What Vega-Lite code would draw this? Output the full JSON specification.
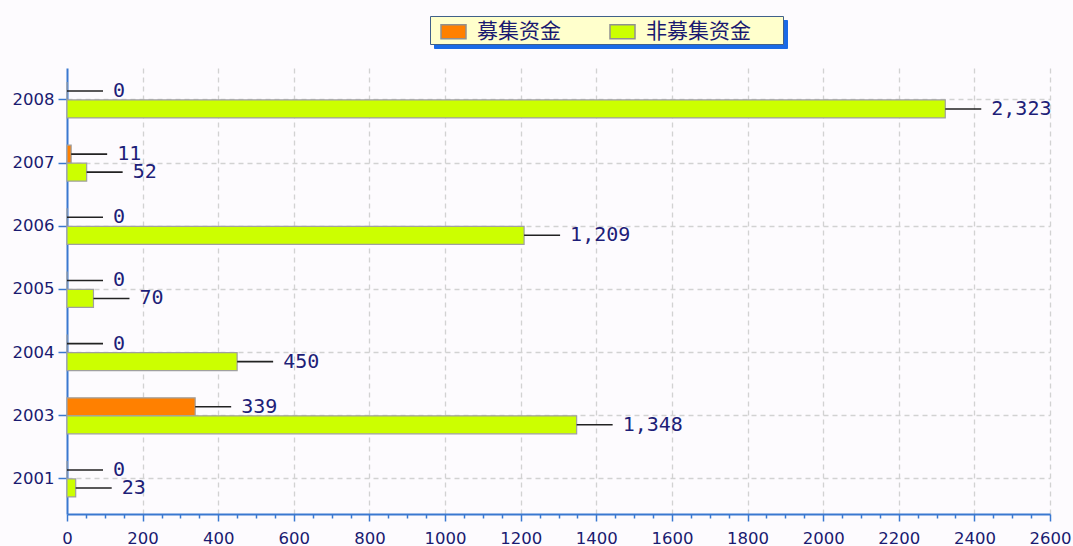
{
  "$schema": "https://vega.github.io/schema/vega-lite/v6.json",
  "width": 983,
  "height": 446,
  "autosize": {"type": "none"},
  "padding": {"left": 67, "top": 68, "right": 23, "bottom": 32},
  "background": "#fdfbfe",
  "config": {
    "view": {"stroke": null},
    "axis": {"labelFont": "DejaVu Sans", "labelFontSize": 16.5, "labelColor": "#1a1a70", "domainColor": "#3a78d0", "domainWidth": 2, "tickColor": "#3a78d0", "tickWidth": 1.5, "gridColor": "#d2d2d2", "gridDash": [5, 4], "gridWidth": 1.3, "title": null},
    "legend": {"labelFont": "Noto Sans CJK SC", "labelFontSize": 21, "labelColor": "#1a1a70"}
  },
  "data": {
    "values": [
      {"year": "2008", "series": "募集资金", "value": 0},
      {"year": "2008", "series": "非募集资金", "value": 2323},
      {"year": "2007", "series": "募集资金", "value": 11},
      {"year": "2007", "series": "非募集资金", "value": 52},
      {"year": "2006", "series": "募集资金", "value": 0},
      {"year": "2006", "series": "非募集资金", "value": 1209},
      {"year": "2005", "series": "募集资金", "value": 0},
      {"year": "2005", "series": "非募集资金", "value": 70},
      {"year": "2004", "series": "募集资金", "value": 0},
      {"year": "2004", "series": "非募集资金", "value": 450},
      {"year": "2003", "series": "募集资金", "value": 339},
      {"year": "2003", "series": "非募集资金", "value": 1348},
      {"year": "2001", "series": "募集资金", "value": 0},
      {"year": "2001", "series": "非募集资金", "value": 23}
    ]
  },
  "encoding": {
    "y": {
      "field": "year", "type": "nominal", "sort": "descending",
      "scale": {"paddingInner": 0.43, "paddingOuter": 0.245, "align": 0.45},
      "axis": {"grid": true, "tickSize": 9, "labelPadding": 4, "domainWidth": 2}
    },
    "yOffset": {"field": "series", "type": "nominal", "sort": ["募集资金", "非募集资金"], "scale": {"paddingInner": 0, "paddingOuter": 0}},
    "x": {
      "field": "value", "type": "quantitative",
      "scale": {"domain": [0, 2600], "nice": false, "zero": true},
      "axis": {
        "values": [0,50,100,150,200,250,300,350,400,450,500,550,600,650,700,750,800,850,900,950,1000,1050,1100,1150,1200,1250,1300,1350,1400,1450,1500,1550,1600,1650,1700,1750,1800,1850,1900,1950,2000,2050,2100,2150,2200,2250,2300,2350,2400,2450,2500,2550,2600],
        "format": "d",
        "labelExpr": "datum.value % 200 === 0 ? datum.label : ''",
        "grid": true,
        "gridOpacity": {"condition": {"test": "datum.value % 200 === 0 && datum.value > 0", "value": 1}, "value": 0},
        "tickSize": {"condition": {"test": "datum.value % 200 === 0", "value": 7}, "value": 4},
        "labelPadding": 9,
        "labelFlush": false,
        "labelOverlap": false
      }
    }
  },
  "layer": [
    {
      "mark": {"type": "bar", "stroke": "#a0a0a0", "strokeWidth": 1.2},
      "encoding": {
        "color": {
          "field": "series", "type": "nominal",
          "scale": {"domain": ["募集资金", "非募集资金"], "range": ["#ff8000", "#ccff00"]},
          "legend": {
            "title": null, "orient": "none", "direction": "horizontal", "columns": 2, "zindex": 2,
            "legendX": 363, "legendY": -52,
            "fillColor": "#ffffcc", "strokeColor": "#40608a",
            "padding": 2, "symbolOffset": 8, "labelOffset": 10, "columnPadding": 40,
            "symbolType": "M-1,-0.56H1V0.56H-1Z", "symbolSize": 625,
            "symbolStrokeColor": "#909090", "symbolStrokeWidth": 1.5, "symbolOpacity": 1,
            "labelExpr": "datum.label === '非募集资金' ? datum.label + '\u2800\u2800' : datum.label"
          }
        }
      }
    },
    {
      "mark": {"type": "rule", "x2Offset": 36, "strokeWidth": 1.6},
      "encoding": {
        "x2": {"field": "value"},
        "stroke": {
          "field": "series", "type": "nominal",
          "scale": {"domain": ["非募集资金", "募集资金"], "range": ["#222222", "#222222"]},
          "legend": {
            "title": null, "orient": "none", "direction": "horizontal", "columns": 2, "zindex": 1,
            "legendX": 367, "legendY": -48,
            "fillColor": "#1a6ae6", "strokeColor": "#1a6ae6",
            "padding": 2, "symbolOffset": 8, "labelOffset": 10, "columnPadding": 40,
            "symbolType": "M-1,-0.56H1V0.56H-1Z", "symbolSize": 625,
            "symbolOpacity": 0, "labelOpacity": 0,
            "labelExpr": "datum.label === '非募集资金' ? datum.label + '\u2800\u2800' : datum.label"
          }
        }
      }
    },
    {
      "mark": {"type": "text", "dx": 46, "align": "left", "baseline": "middle", "font": "DejaVu Sans Mono", "fontSize": 20, "color": "#1e1e78"},
      "encoding": {"text": {"field": "value", "type": "quantitative", "format": ","}}
    }
  ]
}
